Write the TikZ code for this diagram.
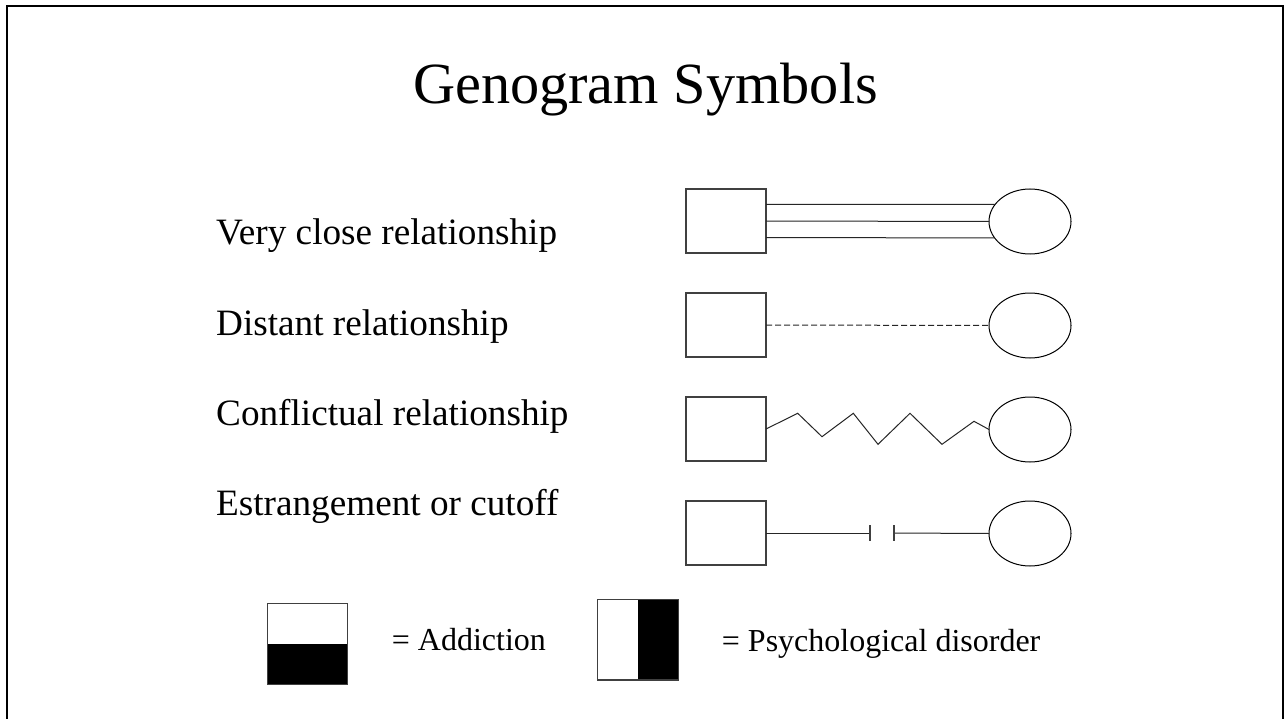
\documentclass[tikz,border=0pt]{standalone}
\usepackage{fontspec}
\setmainfont{Liberation Serif}
\usetikzlibrary{shapes.geometric,calc}
\begin{document}
\begin{tikzpicture}[x=1pt,y=-1pt,
  sq/.style={draw=black!75,line width=1.3pt,rectangle,minimum width=80pt,minimum height=64pt,inner sep=0pt,outer sep=0pt},
  ov/.style={draw=black,line width=1pt,ellipse,minimum width=82pt,minimum height=65pt,inner sep=0pt,outer sep=0pt},
  rel/.style={draw=black!85,line width=1pt},
  lbl/.style={anchor=base west,inner sep=0pt,font=\fontsize{37.2}{40}\selectfont},
  key/.style={anchor=base west,inner sep=0pt,font=\fontsize{32}{36}\selectfont},
  keybox/.style={draw=black!75,line width=1.3pt,minimum width=80pt,minimum height=81pt,inner sep=0pt,outer sep=0pt}]
\useasboundingbox (0,0) rectangle (1284,719);
\clip (0,0) rectangle (1284,719);
\fill[white] (0,0) rectangle (1284,719);
% frame
\draw[line width=2.5pt,black] (7,740) -- (7,6) -- (1283,6) -- (1283,740);
% title
\node[anchor=base,inner sep=0pt,font=\fontsize{58.3}{62}\selectfont] (title) at (645.5,104) {Genogram Symbols};
% labels
\node[lbl] (l1) at (216,245) {Very close relationship};
\node[lbl] (l2) at (216,335) {Distant relationship};
\node[lbl] (l3) at (216,425) {Conflictual relationship};
\node[lbl] (l4) at (216,515) {Estrangement or cutoff};
% symbols
\node[sq] (s1) at (726,221) {};
\node[ov] (e1) at (1030,221.5) {};
\node[sq] (s2) at (726,325) {};
\node[ov] (e2) at (1030,325.5) {};
\node[sq] (s3) at (726,429) {};
\node[ov] (e3) at (1030,429.5) {};
\node[sq] (s4) at (726,533) {};
\node[ov] (e4) at (1030,533.5) {};
% very close: three lines
\draw[rel] ($(s1.east)+(0,-16.5)$) -- (e1.154.5);
\draw[rel] (s1.east) -- (e1.west);
\draw[rel] ($(s1.east)+(0,16.5)$) -- (e1.205.5);
% distant: dashed
\draw[rel,dash pattern=on 6pt off 3pt] (s2.east) -- (e2.west);
% conflictual: zigzag
\draw[rel,line join=miter] (s3.east) -- (797.7,413.3) -- (822,436.7) -- (853.3,413.3) -- (878,444.3) -- (910,413.3) -- (942,444.3) -- (974,421.3) -- (e3.west);
% cutoff
\coordinate (c1) at (870,533);
\coordinate (c2) at (894,533);
\draw[rel] (s4.east) -- (c1);
\draw[rel] (c2) -- (e4.west);
\draw[rel,draw=black!75,line width=1.3pt] ([yshift=8pt]c1) -- ([yshift=-8pt]c1);
\draw[rel,draw=black!75,line width=1.3pt] ([yshift=8pt]c2) -- ([yshift=-8pt]c2);
% key
\node[keybox] (ka) at (307.2,643.8) {};
\fill[black] (ka.west |- 0,643.8) rectangle (ka.south east);
\draw[draw=black!75,line width=1.3pt] (ka.north west) rectangle (ka.south east);
\node[key] (kat) at (391.7,650) {= Addiction};
\node[keybox,minimum width=80.6pt,minimum height=80.7pt] (kp) at (638,639.7) {};
\fill[black] (kp.north) rectangle (kp.south east);
\draw[draw=black!75,line width=1.3pt] (kp.north west) rectangle (kp.south east);
\node[key] (kpt) at (721.7,651) {= Psychological disorder};
\end{tikzpicture}
\end{document}
